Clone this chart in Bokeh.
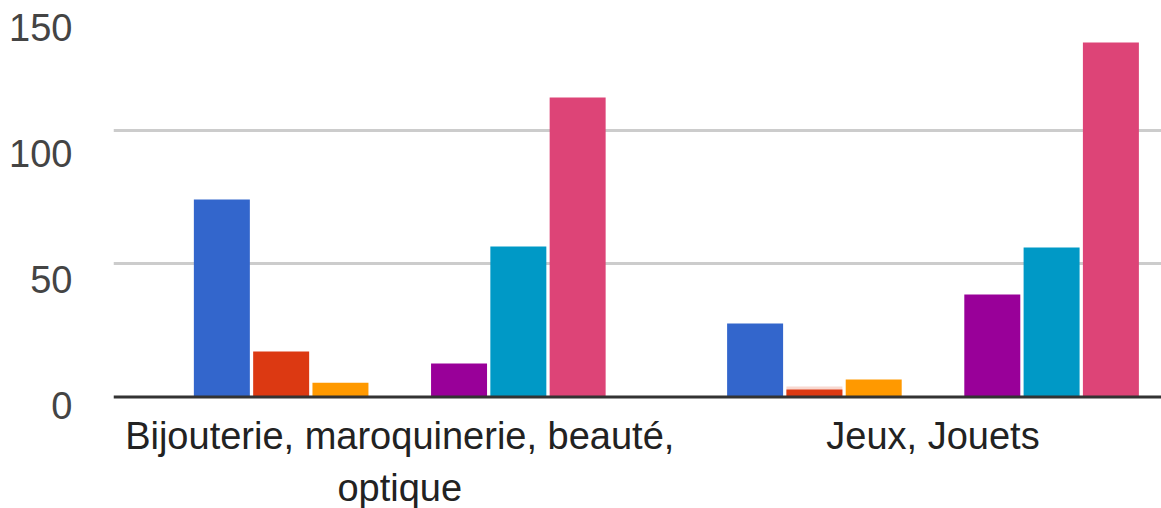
from bokeh.plotting import figure
from bokeh.models import Range1d, LinearAxis, FixedTicker, Grid, Span, ColumnDataSource
from bokeh.transform import dodge
from bokeh.core.properties import value
from bokeh.embed import file_html
from bokeh.resources import INLINE

# ---- data ----
categories = ["Bijouterie, maroquinerie, beauté,\noptique", "Jeux, Jouets"]
series_names = ["s1", "s2", "s3", "s4", "s5", "s6", "s7"]
s1 = [74.2, 27.6]
s2 = [17.1, 2.8]
s3 = [5.4, 6.6]
s4 = [0.0, 0.0]
s5 = [12.6, 38.5]
s6 = [56.6, 56.2]
s7 = [112.6, 133.3]
s2_highlight = [0.0, 3.9]
y_ticks = [0, 50, 100, 150]
colors = ["#3366cc", "#dc3912", "#ff9900", "#109618", "#990099", "#0099c6", "#dd4477"]

FONT = "Liberation Sans"

cat_index = list(range(len(categories)))
src = ColumnDataSource(dict(cat=cat_index, s1=s1, s2=s2, s3=s3, s4=s4, s5=s5,
                            s6=s6, s7=s7, hl=s2_highlight))

p = figure(width=1161, height=508,
           x_range=Range1d(-0.5368, 1.4285), y_range=Range1d(-41.92, 149.06),
           x_axis_location=None, y_axis_location=None,
           output_backend="svg", toolbar_location=None,
           min_border_left=113, min_border_right=0, min_border_top=0, min_border_bottom=0)
p.outline_line_color = None
p.background_fill_color = "white"
p.border_fill_color = "white"
p.xgrid.visible = False
p.ygrid.visible = False

# range used to place the value-axis labels
p.extra_y_ranges = {"lab": Range1d(-40.67, 160.83)}

grid = Grid(dimension=1, ticker=FixedTicker(ticks=y_ticks[1:]),
            grid_line_color="#cccccc", grid_line_width=3)
p.add_layout(grid)

ax = LinearAxis(y_range_name="lab", ticker=FixedTicker(ticks=y_ticks),
                axis_line_color=None, major_tick_line_color=None,
                minor_tick_line_color=None, major_tick_out=0, major_tick_in=0,
                major_label_standoff=41,
                major_label_text_font=FONT, major_label_text_font_size="38px",
                major_label_text_color="#444444")
p.add_layout(ax, "left")

step = 0.1112
bw = 0.105
# highlight behind second series
p.vbar(x=dodge("cat", (1 - 3) * step), top="hl", width=bw, bottom=0, source=src,
       fill_color="#f8d8d0", line_color=None)
for i, name in enumerate(series_names):
    p.vbar(x=dodge("cat", (i - 3) * step), top=name, width=bw, bottom=0, source=src,
           fill_color=colors[i], line_color=None)

p.add_layout(Span(location=0, dimension="width", line_color="#333333", line_width=3))

lab_src = ColumnDataSource(dict(x=cat_index, y=[-6.75] * len(categories), t=categories))
p.text(x="x", y="y", text="t", source=lab_src,
       text_font=value(FONT), text_font_size="38px", text_color="#222222",
       text_align="center", text_baseline="top", text_line_height=1.24)

open("out.html", "w").write(file_html(p, INLINE))
